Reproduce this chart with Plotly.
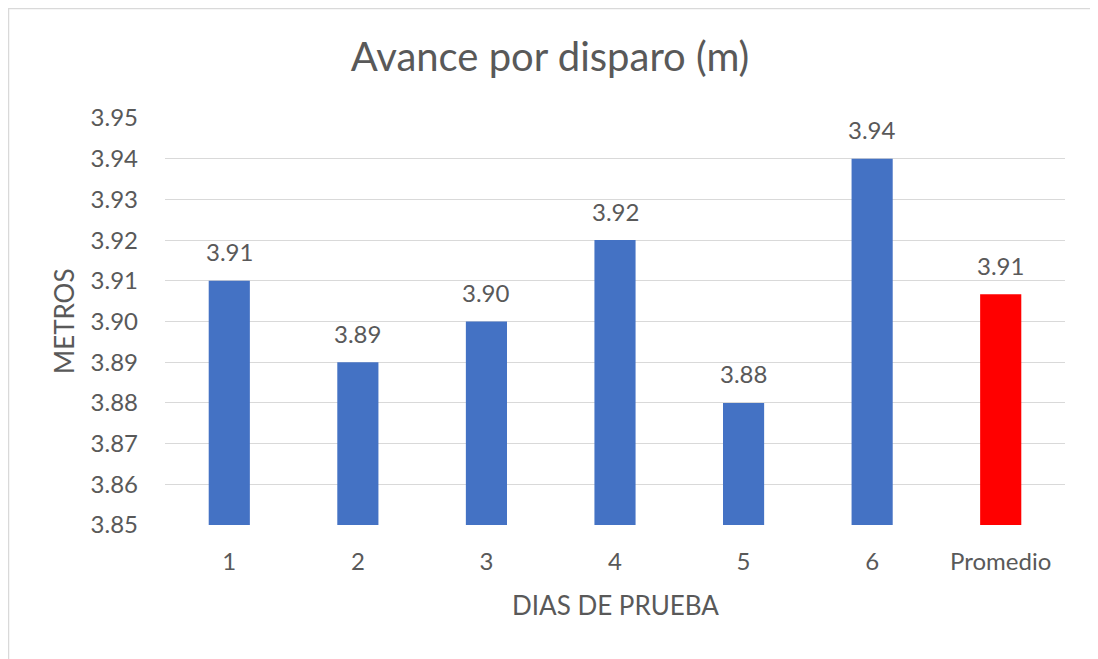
import plotly.graph_objects as go

categories = ["1", "2", "3", "4", "5", "6", "Promedio"]
values = [3.91, 3.89, 3.90, 3.92, 3.88, 3.94, 3.9067]
colors = ["#4472C4"] * 6 + ["#FF0000"]
y_ticks = [3.85, 3.86, 3.87, 3.88, 3.89, 3.90, 3.91, 3.92, 3.93, 3.94, 3.95]

# page body adds an 8px offset, so the figure is sized to the remaining window
W, H = 1090, 651
L, R, T, B = 157, 33, 110, 134
pw, ph = W - L - R, H - T - B

def px(x):
    return (x - L) / pw

def py(y):
    return (H - B - y) / ph

FONT = "Lato, 'Open Sans', sans-serif"
GRAY = "#595959"

fig = go.Figure()
fig.add_trace(go.Bar(
    x=categories, y=[v - 3.85 for v in values], base=3.85,
    marker=dict(color=colors, line=dict(width=0)),
    width=0.32,
))

# category axis: annotation x uses the category index
annotations = [
    dict(x=i, y=v, xref="x", yref="y", text=f"{v:.2f}", showarrow=False,
         yanchor="middle", yshift=29, font=dict(size=24, color=GRAY, family=FONT))
    for i, v in enumerate(values)
]
annotations.append(dict(x=px(56), y=py(313), xref="paper", yref="paper", text="METROS",
                        showarrow=False, textangle=-90, xanchor="center", yanchor="middle",
                        font=dict(size=26, color=GRAY, family=FONT)))
annotations.append(dict(x=px(607), y=py(597), xref="paper", yref="paper", text="DIAS DE PRUEBA",
                        showarrow=False, xanchor="center", yanchor="middle",
                        font=dict(size=26, color=GRAY, family=FONT)))

fig.update_layout(
    width=W, height=H,
    margin=dict(l=L, r=R, t=T, b=B),
    paper_bgcolor="white", plot_bgcolor="white",
    font=dict(family=FONT, color=GRAY),
    title=dict(text="Avance por disparo (m)", x=542 / W, xanchor="center",
               y=1 - 49 / H, yanchor="middle",
               font=dict(size=40, color=GRAY, family=FONT)),
    showlegend=False,
    xaxis=dict(
        type="category", showgrid=False, showline=False, ticks="",
        tickfont=dict(size=24, color=GRAY), ticklabelstandoff=20,
    ),
    yaxis=dict(
        range=[3.85, 3.95], tickvals=y_ticks, ticktext=[f"{t:.2f}" for t in y_ticks],
        showgrid=True, gridcolor="#D9D9D9", gridwidth=1, zeroline=False,
        showline=False, ticks="", tickfont=dict(size=24, color=GRAY),
        ticklabelstandoff=26,
    ),
    annotations=annotations,
    shapes=[
        dict(type="line", xref="paper", yref="paper", x0=px(0), x1=px(W + 5),
             y0=py(0.5), y1=py(0.5), line=dict(color="#D9D9D9", width=1.5)),
        dict(type="line", xref="paper", yref="paper", x0=px(0.5), x1=px(0.5),
             y0=py(0), y1=py(H + 5), line=dict(color="#D9D9D9", width=1.5)),
    ],
)

fig.write_html("out.html")
